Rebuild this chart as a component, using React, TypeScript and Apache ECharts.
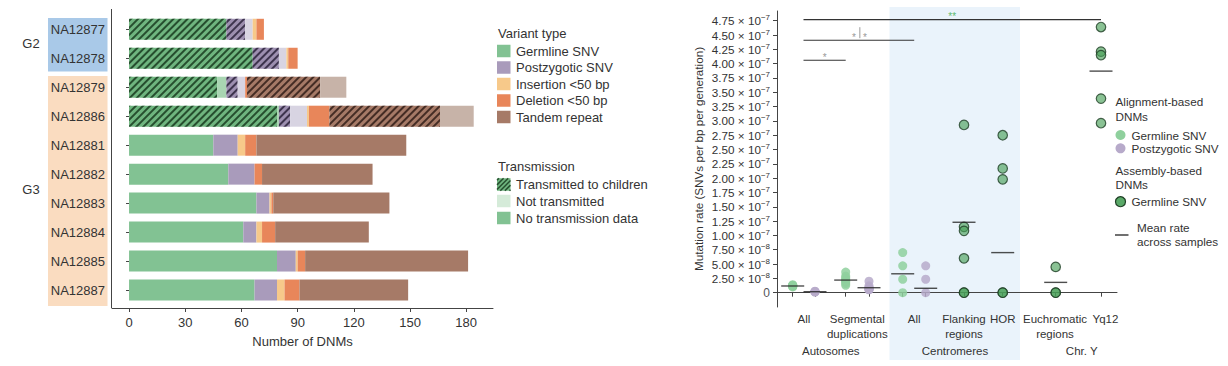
import React, { useEffect, useRef } from 'react';
import * as echarts from 'echarts';

const FONT = '"Liberation Sans", Arial, Helvetica, sans-serif';

// ---------- Left panel data ----------
const categories = ['NA12877', 'NA12878', 'NA12879', 'NA12886', 'NA12881', 'NA12882', 'NA12883', 'NA12884', 'NA12885', 'NA12887'];
const germlineTransmitted = [52, 66, 47, 79, 0, 0, 0, 0, 0, 0];
const germlineNotTransmitted = [0, 0, 5, 1, 0, 0, 0, 0, 0, 0];
const germlineNoData = [0, 0, 0, 0, 45, 53, 68, 61, 79, 67];
const postzygoticTransmitted = [10, 14, 6, 6, 0, 0, 0, 0, 0, 0];
const postzygoticNotTransmitted = [4, 4, 4, 9, 0, 0, 0, 0, 0, 0];
const postzygoticNoData = [0, 0, 0, 0, 13, 14, 7, 7, 10, 12];
const insertionCounts = [2, 1, 0, 1, 4, 0, 1, 3, 1, 4];
const deletionCounts = [4, 5, 1, 11, 6, 4, 1, 7, 4, 8];
const tandemTransmitted = [0, 0, 39, 59, 0, 0, 0, 0, 0, 0];
const tandemNotTransmitted = [0, 0, 14, 18, 0, 0, 0, 0, 0, 0];
const tandemNoData = [0, 0, 0, 0, 80, 59, 62, 50, 87, 58];
const dnmTicks = [0, 30, 60, 90, 120, 150, 180];
const variantLegend = ['Germline SNV', 'Postzygotic SNV', 'Insertion <50 bp', 'Deletion <50 bp', 'Tandem repeat'];
const transmissionLegend = ['Transmitted to children', 'Not transmitted', 'No transmission data'];

// ---------- Right panel data ----------
const columnX = [1.57, 3.8, 6.87, 9.2, 12.57, 14.87, 18.7, 22.57, 27.87, 32.4];
const autosomeAllGermline = [1.0e-8, 1.1e-8, 1.15e-8, 1.2e-8, 1.2e-8, 1.25e-8, 1.3e-8, 1.4e-8];
const autosomeAllPostzygotic = [0.1e-8, 0.15e-8, 0.2e-8, 0.2e-8, 0.25e-8];
const segdupGermline = [1.3e-8, 1.6e-8, 1.9e-8, 2.1e-8, 2.3e-8, 2.6e-8, 2.9e-8, 3.6e-8];
const segdupPostzygotic = [0.5e-8, 0.55e-8, 0.6e-8, 0.7e-8, 0.8e-8, 0.9e-8, 1.2e-8, 2.0e-8];
const centromereAllGermline = [7.0e-8, 4.7e-8, 2.35e-8, 0];
const centromereAllPostzygotic = [4.7e-8, 2.35e-8, 0];
const flankingAssembly = [2.93e-7, 1.15e-7, 1.08e-7, 0.6e-7, 0, 0];
const horAssembly = [2.75e-7, 2.17e-7, 1.98e-7, 0, 0];
const euchromaticAssembly = [0.45e-7, 0, 0];
const yq12Assembly = [4.64e-7, 4.21e-7, 4.15e-7, 3.39e-7, 2.96e-7];
const columnMean = [1.17e-8, 0.17e-8, 2.2e-8, 0.87e-8, 3.3e-8, 0.77e-8, 1.23e-7, 0.70e-7, 0.18e-7, 3.87e-7];
const rateTicks = [0, 2.5e-8, 5e-8, 7.5e-8, 1e-7, 1.25e-7, 1.5e-7, 1.75e-7, 2e-7, 2.25e-7, 2.5e-7, 2.75e-7, 3e-7, 3.25e-7, 3.5e-7, 3.75e-7, 4e-7, 4.25e-7, 4.5e-7, 4.75e-7];
const regionLabelX = [2.69, 8.03, 13.72, 18.7, 22.57, 27.8, 32.85];
const regionLabels = ['All', 'Segmental\nduplications', 'All', 'Flanking\nregions', 'HOR', 'Euchromatic\nregions', 'Yq12'];
const groupLabelX = [5.38, 17.8, 30.47];
const groupLabels = ['Autosomes', 'Centromeres', 'Chr. Y'];
const bracketFrom = [2.65, 2.65, 2.65];
const bracketTo = [32.4, 13.72, 6.87];
const bracketLevel = [4.77e-7, 4.41e-7, 4.06e-7];
const bracketLabel = ['**', '*|*', '*'];

const C = {
  germ: '#82c293', germNT: '#a9d5b2',
  pz: '#a99bbb', pzNT: '#d8d4e2',
  ins: '#f7c98a', del: '#e8865a',
  tr: '#a67a67', trNT: '#c7b3a8',
  text: '#333',
};

const hatch = (stroke: string) => ({
  symbol: 'rect',
  symbolSize: 1,
  color: stroke,
  dashArrayX: [1, 0],
  dashArrayY: [1.6, 3],
  rotation: -Math.PI / 4,
});

function buildOption() {
  const barDefs: any[] = [
    { data: germlineTransmitted, color: '#6fb57f', decal: hatch('rgba(25,60,32,0.85)') },
    { data: germlineNotTransmitted, color: C.germNT },
    { data: germlineNoData, color: C.germ },
    { data: postzygoticTransmitted, color: '#9d8fb0', decal: hatch('rgba(45,35,60,0.85)') },
    { data: postzygoticNotTransmitted, color: C.pzNT },
    { data: postzygoticNoData, color: C.pz },
    { data: insertionCounts, color: C.ins },
    { data: deletionCounts, color: C.del },
    { data: tandemTransmitted, color: C.tr, decal: hatch('rgba(50,30,25,0.85)') },
    { data: tandemNotTransmitted, color: C.trNT },
    { data: tandemNoData, color: C.tr },
  ];
  const barSeries = barDefs.map((d) => ({
    type: 'bar',
    stack: 'dnm',
    xAxisIndex: 0,
    yAxisIndex: 0,
    barWidth: 21,
    silent: true,
    data: d.data,
    itemStyle: d.decal ? { color: d.color, decal: d.decal } : { color: d.color },
  }));

  const alignGerm = [
    ...autosomeAllGermline.map((v) => [columnX[0], v]),
    ...segdupGermline.map((v) => [columnX[2], v]),
    ...centromereAllGermline.map((v) => [columnX[4], v]),
  ];
  const alignPz = [
    ...autosomeAllPostzygotic.map((v) => [columnX[1], v]),
    ...segdupPostzygotic.map((v) => [columnX[3], v]),
    ...centromereAllPostzygotic.map((v) => [columnX[5], v]),
  ];
  const assembly = [
    ...flankingAssembly.map((v) => [columnX[6], v]),
    ...horAssembly.map((v) => [columnX[7], v]),
    ...euchromaticAssembly.map((v) => [columnX[8], v]),
    ...yq12Assembly.map((v) => [columnX[9], v]),
  ];
  const means = columnX.map((x, i) => [x, columnMean[i]]);
  const brackets = bracketFrom.map((f, i) => [f, bracketTo[i], bracketLevel[i]]);

  const graphics: any[] = [];
  // label group backgrounds
  graphics.push({ type: 'rect', z: -10, shape: { x: 48, y: 18, width: 59.5, height: 53.5 }, style: { fill: '#a9c9e8' } });
  graphics.push({ type: 'rect', z: -10, shape: { x: 48, y: 76, width: 59.5, height: 230 }, style: { fill: '#fadcc0' } });
  graphics.push({ type: 'text', x: 31, y: 43, style: { text: 'G2', fontSize: 13, fontFamily: FONT, fill: C.text, align: 'center', verticalAlign: 'middle' } });
  graphics.push({ type: 'text', x: 31, y: 189, style: { text: 'G3', fontSize: 13, fontFamily: FONT, fill: C.text, align: 'center', verticalAlign: 'middle' } });
  // left y axis line
  graphics.push({ type: 'line', shape: { x1: 111.5, y1: 9, x2: 111.5, y2: 308 }, style: { stroke: '#444', lineWidth: 1 } });

  // left legend
  const lx = 497;
  graphics.push({ type: 'text', x: lx + 1, y: 33, style: { text: 'Variant type', fontSize: 13, fontFamily: FONT, fill: C.text, verticalAlign: 'middle' } });
  const vcols = [C.germ, C.pz, C.ins, C.del, C.tr];
  const vys = [51, 67.5, 84, 100.5, 117];
  variantLegend.forEach((t, i) => {
    graphics.push({ type: 'rect', shape: { x: lx, y: vys[i] - 6.25, width: 13.5, height: 12.5 }, style: { fill: vcols[i] } });
    graphics.push({ type: 'text', x: lx + 19, y: vys[i], style: { text: t, fontSize: 13, fontFamily: FONT, fill: C.text, verticalAlign: 'middle' } });
  });
  graphics.push({ type: 'text', x: lx + 1, y: 166.5, style: { text: 'Transmission', fontSize: 13, fontFamily: FONT, fill: C.text, verticalAlign: 'middle' } });
  const tys = [184.5, 201, 218];
  const tcols = ['#6fb57f', '#d5ebd9', C.germ];
  transmissionLegend.forEach((t, i) => {
    const y0 = tys[i] - 6.25;
    graphics.push({ type: 'rect', shape: { x: lx, y: y0, width: 13.5, height: 12.5 }, style: { fill: tcols[i] } });
    if (i === 0) {
      const w = 13.5, h = 12.5;
      for (let s = 2; s < w + h; s += 4.6) {
        const xa = Math.max(0, s - h), xb = Math.min(w, s);
        graphics.push({ type: 'line', shape: { x1: lx + xa, y1: y0 + (s - xa), x2: lx + xb, y2: y0 + (s - xb) }, style: { stroke: 'rgba(25,60,32,0.85)', lineWidth: 1.5 } });
      }
    }
    graphics.push({ type: 'text', x: lx + 19, y: tys[i], style: { text: t, fontSize: 13, fontFamily: FONT, fill: C.text, verticalAlign: 'middle' } });
  });

  // centromere band
  graphics.push({ type: 'rect', z: -10, shape: { x: 889.5, y: 7, width: 130.5, height: 353 }, style: { fill: '#eaf3fb' } });

  // right legend
  const rx = 1115.5;
  const rs = 11.5;
  const rt = (x: number, y: number, text: string) => ({ type: 'text', x, y, style: { text, fontSize: 11.7, fontFamily: FONT, fill: C.text, verticalAlign: 'middle' } });
  graphics.push(rt(rx, 101.5, 'Alignment-based'));
  graphics.push(rt(rx, 116.7, 'DNMs'));
  graphics.push({ type: 'circle', shape: { cx: 1120.5, cy: 135, r: 5 }, style: { fill: '#8fd09d' } });
  graphics.push(rt(1131.5, 135, 'Germline SNV'));
  graphics.push({ type: 'circle', shape: { cx: 1120.5, cy: 148.3, r: 5 }, style: { fill: '#b7aaca' } });
  graphics.push(rt(1131.5, 148.3, 'Postzygotic SNV'));
  graphics.push(rt(rx, 170, 'Assembly-based'));
  graphics.push(rt(rx, 184.5, 'DNMs'));
  graphics.push({ type: 'circle', shape: { cx: 1120.5, cy: 201.7, r: 5 }, style: { fill: 'rgba(72,160,88,0.9)', stroke: '#1f3f25', lineWidth: 1.2 } });
  graphics.push(rt(1131.5, 201.7, 'Germline SNV'));
  graphics.push({ type: 'line', shape: { x1: 1115, y1: 235, x2: 1128.5, y2: 235 }, style: { stroke: '#222', lineWidth: 1.3 } });
  graphics.push(rt(1137, 227.7, 'Mean rate'));
  graphics.push(rt(1137, 241.7, 'across samples'));

  const rateFormatter = (v: number) => {
    if (Math.abs(v) < 1e-15) return '0';
    const parts = v.toExponential(2).split('e');
    return `{m|${parts[0]} × 10}{s|${parts[1].replace('-', '−')}}`;
  };

  const labelFor = (xs: number[], texts: string[]) => (v: number) => {
    const i = xs.findIndex((p) => Math.abs(p - v) < 1e-6);
    return i >= 0 ? texts[i] : '';
  };
  const evenX = regionLabelX.filter((_, i) => i % 2 === 0);
  const oddX = regionLabelX.filter((_, i) => i % 2 === 1);

  const labelAxis = (custom: number[], offset: number, margin: number, xs: number[], texts: string[]) => ({
    type: 'value', gridIndex: 1, min: 0, max: 34, position: 'bottom', offset,
    axisLine: { show: false }, axisTick: { show: false }, splitLine: { show: false },
    axisLabel: {
      customValues: custom, fontSize: rs, color: C.text, margin, lineHeight: 15,
      hideOverlap: false, formatter: labelFor(xs, texts),
    },
  });

  return {
    animation: false,
    textStyle: { fontFamily: FONT },
    grid: [
      { left: 112, right: 735, top: 14.8, bottom: 61.5, containLabel: false, outerBoundsMode: 'none' },
      { left: 777, right: 111, top: 11, bottom: 59, containLabel: false, outerBoundsMode: 'none' },
    ],
    xAxis: [
      {
        type: 'value', gridIndex: 0, min: -9.1, max: 194.3, offset: 3.5,
        axisLine: { show: true, lineStyle: { color: '#444', width: 1 } },
        axisTick: { show: true, length: 4, customValues: dnmTicks, lineStyle: { color: '#444' } },
        axisLabel: { customValues: dnmTicks, fontSize: 13, color: C.text, margin: 8 },
        splitLine: { show: false },
        name: 'Number of DNMs', nameLocation: 'middle', nameGap: 27,
        nameTextStyle: { fontSize: 13, color: C.text },
      },
      {
        type: 'value', gridIndex: 1, min: 0, max: 34, position: 'bottom',
        axisLine: { show: true, lineStyle: { color: '#444', width: 1 } },
        axisTick: { show: true, length: 4, customValues: columnX, lineStyle: { color: '#444' } },
        axisLabel: {
          customValues: evenX, fontSize: rs, color: C.text, margin: 4, lineHeight: 15,
          hideOverlap: false, formatter: labelFor(regionLabelX, regionLabels),
        },
        splitLine: { show: false },
      },
      labelAxis(oddX, 0, 4, regionLabelX, regionLabels),
      labelAxis(groupLabelX, 36.5, 0, groupLabelX, groupLabels),
    ],
    yAxis: [
      {
        type: 'category', gridIndex: 0, data: categories, inverse: true,
        axisLine: { show: false },
        axisTick: { show: true, alignWithLabel: true, length: 3, lineStyle: { color: '#444' } },
        axisLabel: { fontSize: 13, color: C.text, margin: 7 },
      },
      {
        type: 'value', gridIndex: 1, min: -2.5e-8, max: 4.92e-7,
        axisLine: { show: true, lineStyle: { color: '#444', width: 1 } },
        axisTick: { show: true, length: 4, customValues: rateTicks, lineStyle: { color: '#444' } },
        axisLabel: {
          customValues: rateTicks, margin: 7, formatter: rateFormatter,
          rich: {
            m: { fontSize: 11.7, color: C.text, lineHeight: 14, fontFamily: FONT },
            s: { fontSize: 8, color: C.text, lineHeight: 6, verticalAlign: 'top', fontFamily: FONT },
          },
        },
        splitLine: { show: false },
        name: 'Mutation rate (SNVs per bp per generation)', nameLocation: 'middle', nameGap: 73,
        nameTextStyle: { fontSize: 11.7, color: C.text },
      },
    ],
    graphic: { elements: graphics },
    series: [
      ...barSeries,
      {
        type: 'scatter', xAxisIndex: 1, yAxisIndex: 1, data: alignGerm, symbolSize: 9, silent: true,
        itemStyle: { color: '#8fd09d', opacity: 0.85 }, z: 3,
      },
      {
        type: 'scatter', xAxisIndex: 1, yAxisIndex: 1, data: alignPz, symbolSize: 9, silent: true,
        itemStyle: { color: '#b7aaca', opacity: 0.85 }, z: 3,
      },
      {
        type: 'scatter', xAxisIndex: 1, yAxisIndex: 1, data: assembly, symbolSize: 9.5, silent: true,
        itemStyle: { color: 'rgba(72,160,88,0.8)', borderColor: '#1f3f25', borderWidth: 1.2 }, z: 4,
      },
      {
        type: 'scatter', xAxisIndex: 1, yAxisIndex: 1, data: means, symbol: 'rect', symbolSize: [23, 1.4], silent: true,
        itemStyle: { color: '#222' }, z: 5,
      },
      {
        type: 'custom', xAxisIndex: 1, yAxisIndex: 1, data: brackets, silent: true, z: 5,
        encode: { x: [0, 1], y: 2 },
        renderItem: (params: any, api: any) => {
          const i = params.dataIndex;
          const p1 = api.coord([api.value(0), api.value(2)]);
          const p2 = api.coord([api.value(1), api.value(2)]);
          const cx = (p1[0] + p2[0]) / 2;
          const y = p1[1];
          const label = bracketLabel[i];
          const col = label === '**' ? '#5dba6e' : '#9a9a9a';
          const children: any[] = [
            { type: 'line', shape: { x1: p1[0], y1: y, x2: p2[0], y2: y }, style: { stroke: '#333', lineWidth: 1.1 } },
          ];
          const star = (x: number, t: string) => ({
            type: 'text', x, y: y - 3,
            style: { text: t, fontSize: 10, fontFamily: FONT, fill: col, align: 'center', verticalAlign: 'middle' },
          });
          if (label.indexOf('|') >= 0) {
            children.push(star(cx - 5, '*'));
            children.push(star(cx + 6, '*'));
            children.push({ type: 'line', shape: { x1: cx + 1, y1: y - 13, x2: cx + 1, y2: y - 2 }, style: { stroke: '#9a9a9a', lineWidth: 1 } });
          } else {
            children.push(star(cx, label));
          }
          return { type: 'group', children };
        },
      },
    ],
  };
}

export default function App() {
  const ref = useRef<HTMLDivElement>(null);
  useEffect(() => {
    const chart = echarts.init(ref.current!, null, { renderer: 'svg' });
    chart.setOption(buildOption() as any);
    return () => chart.dispose();
  }, []);
  return <div ref={ref} style={{ position: 'fixed', left: 0, top: 0, width: 1228, height: 366, background: '#fff' }} />;
}
